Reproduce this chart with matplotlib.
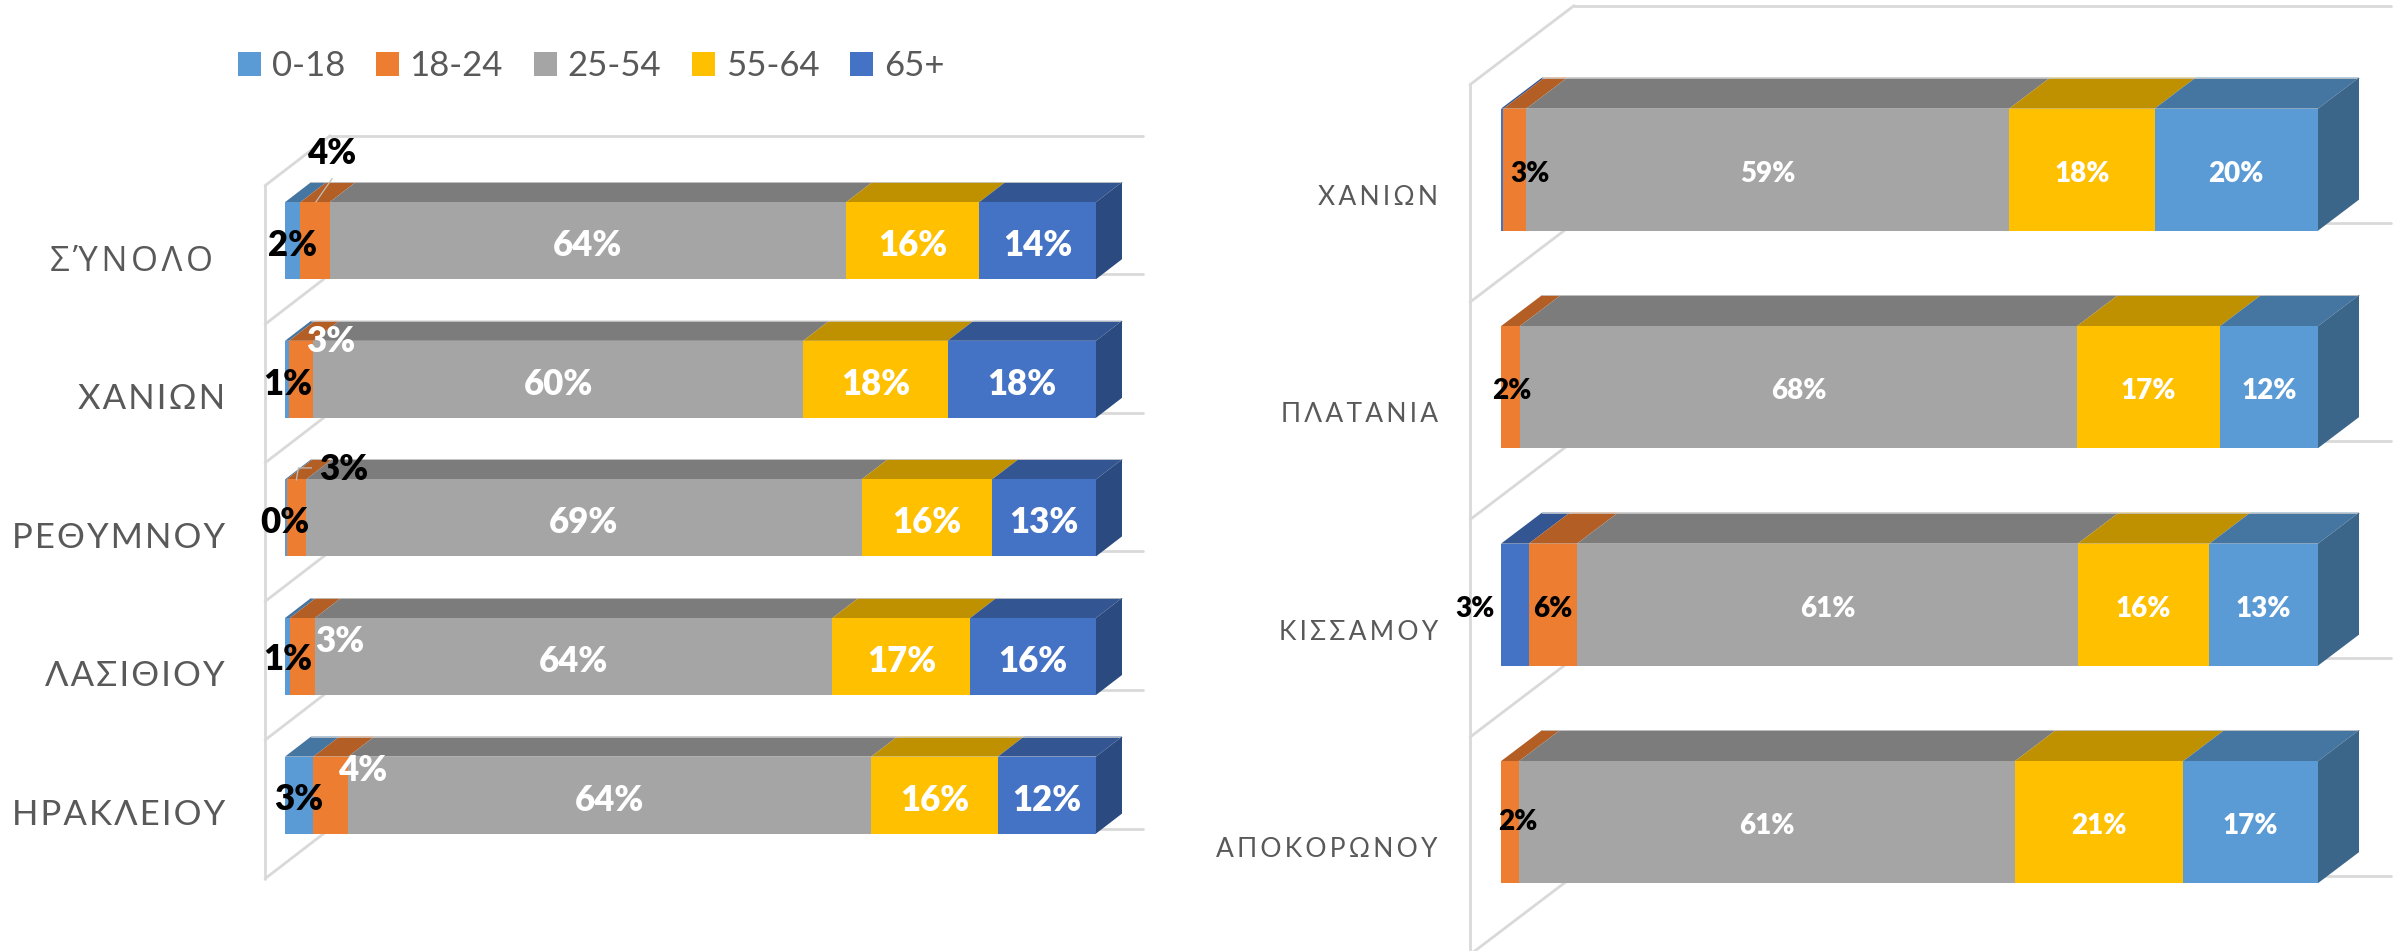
import matplotlib
matplotlib.use("Agg")
import matplotlib.pyplot as plt
from matplotlib.patches import Polygon, Patch
from matplotlib.transforms import ScaledTranslation
import numpy as np

W, H, DPI = 2399, 951, 100
FONT = ['Lato', 'Open Sans', 'DejaVu Sans']
plt.rcParams['font.family'] = FONT

age_groups = ['0-18', '18-24', '25-54', '55-64', '65+']

left_categories = ['Σ\u038eΝΟΛΟ', 'ΧΑΝΙΩΝ', 'ΡΕΘΥΜΝΟΥ', 'ΛΑΣΙΘΙΟΥ', 'ΗΡΑΚΛΕΙΟΥ']
left_0_18 = [1.9, 0.5, 0.2, 0.6, 3.5]
left_18_24 = [3.6, 3.0, 2.4, 3.1, 4.3]
left_25_54 = [63.7, 60.4, 68.5, 63.8, 64.5]
left_55_64 = [16.4, 17.8, 16.1, 17.0, 15.6]
left_65_plus = [14.4, 18.3, 12.8, 15.5, 12.1]
left_labels = [['2%', '4%', '64%', '16%', '14%'],
               ['1%', '3%', '60%', '18%', '18%'],
               ['0%', '3%', '69%', '16%', '13%'],
               ['1%', '3%', '64%', '17%', '16%'],
               ['3%', '4%', '64%', '16%', '12%']]

right_categories = ['ΧΑΝΙΩΝ', 'ΠΛΑΤΑΝΙΑ', 'ΚΙΣΣΑΜΟΥ', 'ΑΠΟΚΟΡΩΝΟΥ']
right_0_18 = [0.3, 0.0, 3.4, 0.0]
right_18_24 = [2.8, 2.3, 5.9, 2.2]
right_25_54 = [59.1, 68.2, 61.3, 60.7]
right_55_64 = [17.8, 17.5, 16.1, 20.6]
right_65_plus = [20.0, 12.0, 13.3, 16.5]
right_labels = [['', '3%', '59%', '18%', '20%'],
                ['', '2%', '68%', '17%', '12%'],
                ['3%', '6%', '61%', '16%', '13%'],
                ['', '2%', '61%', '21%', '17%']]

# (front, top, side) colours
C_LBLUE = ('#5B9BD5', '#4576A2', '#3B6589')
C_ORANGE = ('#ED7D31', '#B25E25', '#9A5120')
C_GREY = ('#A5A5A5', '#7C7C7C', '#6B6B6B')
C_YELLOW = ('#FFC000', '#BF9000', '#A67D00')
C_DBLUE = ('#4472C4', '#335693', '#2B4A7F')
left_colors = [C_LBLUE, C_ORANGE, C_GREY, C_YELLOW, C_DBLUE]
right_colors = [C_DBLUE, C_ORANGE, C_GREY, C_YELLOW, C_LBLUE]

GRID = '#D9D9D9'
TXT = '#595959'

fig = plt.figure(figsize=(W / DPI, H / DPI), dpi=DPI, facecolor='white')


def spaced(s, sep='\u200a'):
    return sep.join(s)


def draw(rect_px, n, series, labels, colors, cats, depth, wall, fs, cat_fs, cat_off, nudges, cat_sep, leaders):
    x0, x1, top, spacing, bar_px = rect_px
    ax = fig.add_axes([x0 / W, 1 - (top + n * spacing) / H, (x1 - x0) / W, n * spacing / H])
    ax.set_xlim(0, 100)
    ax.set_ylim(n - 0.5, -0.5)
    ax.patch.set_visible(False)
    for s in ax.spines.values():
        s.set_visible(False)
    ax.set_xticks([])
    px, py = 100 / (x1 - x0), 1 / spacing
    ddx, ddy = depth[0] * px, depth[1] * py
    wx0, wx1, wxr, wback, wfront = wall

    # wall, floor diagonals and back gridlines
    lw = 2.0
    kw = dict(color=GRID, lw=lw, clip_on=False, solid_capstyle='round', zorder=1)
    boundaries = np.arange(n + 1) - 0.5
    for b in boundaries:
        yb, yf = b + wback * py, b + wfront * py
        ax.plot([wx0 * px, wx1 * px], [yf, yb], **kw)
        ax.plot([wx1 * px, 100 + wxr * px], [yb, yb], **kw)
    ax.plot([wx0 * px, wx0 * px], [boundaries[0] + wfront * py, boundaries[-1] + wfront * py], **kw)

    ypos = np.arange(n)
    h = bar_px * py
    left = np.zeros(n)
    arr = np.array(series, dtype=float)
    for j, vals in enumerate(arr):
        c = colors[j]
        ax.barh(ypos, vals, left=left, height=h, color=c[0], edgecolor='none', zorder=3, label=age_groups[j])
        for i in ypos:
            if vals[i] <= 0:
                continue
            yt = i - h / 2
            ax.add_patch(Polygon([(left[i], yt), (left[i] + vals[i], yt),
                                  (left[i] + vals[i] + ddx, yt - ddy), (left[i] + ddx, yt - ddy)],
                                 closed=True, fc=c[1], ec='none', zorder=2.5, clip_on=False))
            # thin pale outline at the back of the top face
            ax.plot([left[i] + ddx, left[i] + vals[i] + ddx], [yt - ddy, yt - ddy], color='#C8C8C8', lw=0.6,
                    zorder=2.6, clip_on=False)
        left = left + vals
    # end cap side face
    c = colors[-1]
    for i in ypos:
        yt, yb = i - h / 2, i + h / 2
        ax.add_patch(Polygon([(left[i], yt), (left[i] + ddx, yt - ddy), (left[i] + ddx, yb - ddy), (left[i], yb)],
                             closed=True, fc=c[2], ec='none', zorder=2.7, clip_on=False))

    # data labels
    left = np.zeros(n)
    for j, vals in enumerate(arr):
        for i in ypos:
            text = labels[i][j]
            cx = left[i] + vals[i] / 2
            if text:
                dx, dy, col = nudges.get((i, j), (0, nudges['dy'], 'white'))
                ax.annotate(text, (cx, i), xytext=(dx * 72 / DPI, -dy * 72 / DPI),
                            textcoords='offset points', ha='center', va='center', fontsize=fs,
                            fontweight='heavy', color=col, zorder=6, annotation_clip=False)
            if (i, j) in leaders:
                pts = leaders[(i, j)]
                ax.plot([cx + p[0] * px for p in pts], [i + p[1] * py for p in pts], color='#BFBFBF', lw=0.9,
                        zorder=5, clip_on=False)
        left = left + vals

    # category labels
    ax.set_yticks(ypos, [spaced(s, cat_sep) for s in cats], fontsize=cat_fs, color=TXT)
    ax.tick_params(axis='y', length=0, pad=0)
    for lab, (ox, oy) in zip(ax.get_yticklabels(), cat_off):
        lab.set_transform(lab.get_transform() + ScaledTranslation(ox / DPI, -oy / DPI, fig.dpi_scale_trans))
    return ax


left_nudges = {
    'dy': 5,
    (0, 0): (0, 5, 'black'), (0, 1): (17, -87, 'black'),
    (1, 0): (1, 5, 'black'), (1, 1): (29, -38, 'white'),
    (2, 0): (-1, 5, 'black'), (2, 1): (47, -48, 'black'),
    (3, 0): (0, 3, 'black'), (3, 1): (37, -15, 'white'),
    (4, 0): (0, 4, 'black'), (4, 1): (32, -25, 'white'),
}
right_nudges = {
    'dy': 4,
    (0, 1): (15, 4, 'black'),
    (1, 1): (1, 4, 'black'),
    (2, 0): (-40, 4, 'black'), (2, 1): (0, 4, 'black'),
    (3, 1): (8, 0, 'black'),
}
# label leader lines, in pixels from the centre of the segment's front face
left_leaders = {
    (0, 1): [(1, -39), (17, -62)],
    (2, 1): [(0, -38), (2, -50), (15, -50)],
}

ax_l = draw((285, 1096, 171.4, 138.6, 77), 5,
            [left_0_18, left_18_24, left_25_54, left_55_64, left_65_plus], left_labels, left_colors,
            left_categories, (26, 20), (-20, 45, 47, -35.7, 14.3), 25, 25,
            [(-72, 17), (-60, 17), (-60, 17), (-60, 17), (-60, 17)], left_nudges, '\u200a', left_leaders)
ax_l.get_yticklabels()[0].set_fontfamily(['Open Sans', 'DejaVu Sans'])
ax_r = draw((1501, 2318, 60.9, 217.5, 122), 4,
            [right_0_18, right_18_24, right_25_54, right_55_64, right_65_plus], right_labels, right_colors,
            right_categories, (41, 31), (-31, 73, 73, -55.25, 23.75), 20, 19,
            [(-63, 25), (-63, 25), (-63, 25), (-63, 25)], right_nudges, '\u200a\u200a', {})

handles = [Patch(facecolor=c[0], edgecolor='none', label=a) for c, a in zip(left_colors, age_groups)]
fig.legend(handles=handles, loc='center left', bbox_to_anchor=(238 / W, 1 - 66 / H), ncol=5, frameon=False,
           fontsize=25, labelcolor=TXT, handlelength=0.67, handleheight=0.67, handletextpad=0.3,
           columnspacing=0.89, borderpad=0, borderaxespad=0)

fig.savefig('out.png', dpi=DPI, facecolor='white')
